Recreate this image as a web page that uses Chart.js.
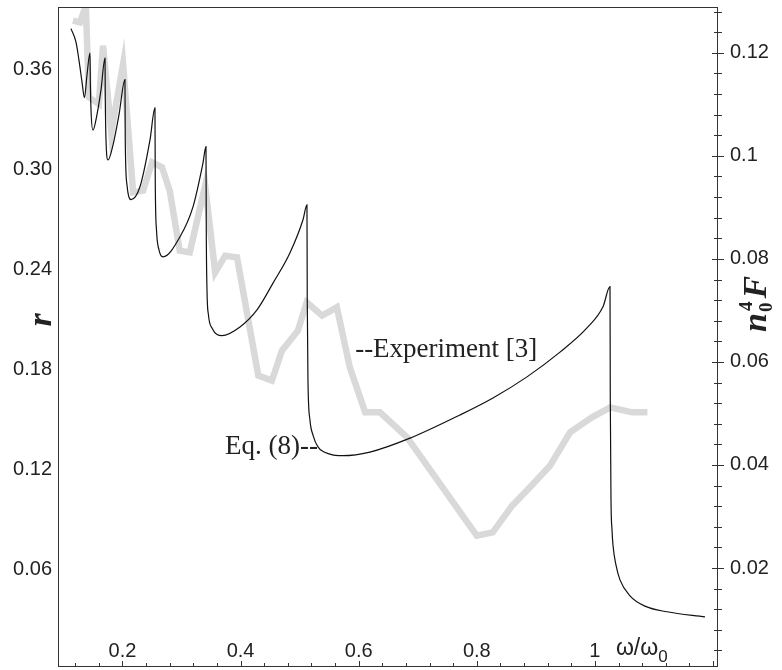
<!DOCTYPE html>
<html lang="en">
<head>
<meta charset="UTF-8">
<title>r and n0^4 F versus ω/ω0</title>
<script src="https://cdn.jsdelivr.net/npm/chart.js@4"></script>
<style>
  html, body { margin: 0; padding: 0; background: #fff; }
  #wrap { width: 782px; height: 670px; }
</style>
</head>
<body>
<div id="wrap"><canvas id="chart" width="782" height="670"></canvas></div>
<script>
// Experiment [3]  (grey, left axis r)
const expX = [0.116, 0.128, 0.138, 0.143, 0.160, 0.167, 0.181, 0.201, 0.218, 0.235,
              0.250, 0.267, 0.280, 0.297, 0.314, 0.340, 0.357, 0.374, 0.394, 0.430,
              0.453, 0.470, 0.497, 0.512, 0.538, 0.563, 0.585, 0.611, 0.636, 0.682,
              0.772, 0.800, 0.827, 0.860, 0.890, 0.924, 0.958, 0.995, 1.026, 1.063, 1.089];
const expR = [0.389, 0.388, 0.398, 0.343, 0.339, 0.374, 0.322, 0.363, 0.286, 0.287,
              0.304, 0.301, 0.287, 0.251, 0.250, 0.290, 0.238, 0.248, 0.247, 0.176,
              0.173, 0.191, 0.203, 0.220, 0.212, 0.217, 0.181, 0.154, 0.154, 0.139,
              0.094, 0.080, 0.082, 0.098, 0.109, 0.122, 0.142, 0.151, 0.157, 0.154, 0.154];

// Eq. (8)  (black, right axis n0^4 F)
const eqX = [0.1128, 0.1213, 0.1263, 0.1314, 0.1356, 0.1399, 0.1450, 0.1455, 0.1467, 0.1500,
             0.1568, 0.1636, 0.1704, 0.1709, 0.1721, 0.1754, 0.1839, 0.1941, 0.2042, 0.2047,
             0.2076, 0.2144, 0.2296, 0.2466, 0.2550, 0.2555, 0.2576, 0.2617, 0.2686, 0.2974,
             0.3194, 0.3363, 0.3414, 0.3419, 0.3431, 0.3456, 0.3516, 0.3685, 0.3990, 0.4278,
             0.4549, 0.4837, 0.5057, 0.5124, 0.5129, 0.5141, 0.5175, 0.5226, 0.5311, 0.5514,
             0.5734, 0.6191, 0.6869, 0.7715, 0.8274, 0.8850, 0.9409, 0.9866, 1.0137, 1.0256,
             1.0261, 1.0273, 1.0290, 1.0306, 1.0357, 1.0425, 1.0594, 1.0848, 1.1220, 1.1865];
const eqF = [0.1247, 0.1221, 0.1186, 0.1144, 0.1113, 0.1157, 0.1200, 0.1148, 0.1089, 0.1050,
             0.1080, 0.1128, 0.1190, 0.1109, 0.1031, 0.0992, 0.1021, 0.1080, 0.1148, 0.1031,
             0.0944, 0.0915, 0.0940, 0.1031, 0.1093, 0.0953, 0.0856, 0.0818, 0.0804, 0.0843,
             0.0901, 0.0986, 0.1018, 0.0856, 0.0740, 0.0691, 0.0666, 0.0651, 0.0668, 0.0701,
             0.0753, 0.0812, 0.0876, 0.0905, 0.0720, 0.0565, 0.0487, 0.0458, 0.0435, 0.0421,
             0.0418, 0.0425, 0.0452, 0.0497, 0.0530, 0.0571, 0.0619, 0.0666, 0.0707, 0.0746,
             0.0526, 0.0332, 0.0274, 0.0245, 0.0206, 0.0177, 0.0146, 0.0126, 0.0115, 0.0105];

const rTicks = [0.06, 0.12, 0.18, 0.24, 0.30, 0.36];
const fTicks = [0.02, 0.04, 0.06, 0.08, 0.1, 0.12];
const xTicks = [0.2, 0.4, 0.6, 0.8, 1];

const ink = '#222';
const sans = '"Liberation Sans", Arial, Helvetica, sans-serif';
const serif = '"Liberation Serif", "Times New Roman", serif';

// frame, inward ticks, x labels, axis titles and the two notes
const decor = {
  id: 'decor',
  afterDraw(chart) {
    const { ctx, chartArea: a, scales: { x, y } } = chart;
    const y2 = chart.scales.y2;
    ctx.save();
    ctx.strokeStyle = '#333';
    ctx.lineWidth = 1;
    ctx.strokeRect(a.left + 0.5, a.top + 0.5, a.right - a.left - 1, a.bottom - a.top - 1);

    // bottom ticks every 0.04, pointing up
    ctx.beginPath();
    for (let i = 3; i <= 30; i++) {
      const px = Math.round(x.getPixelForValue(i * 0.04)) + 0.5;
      const len = i % 5 === 0 ? 6 : 4;
      ctx.moveTo(px, a.bottom);
      ctx.lineTo(px, a.bottom - len);
    }
    // right ticks every 0.004, crossing the axis
    for (let i = 1; i <= 32; i++) {
      const py = Math.round(y2.getPixelForValue(i * 0.004)) + 0.5;
      const major = i % 5 === 0;
      ctx.moveTo(a.right - (major ? 6 : 4), py);
      ctx.lineTo(a.right + (major ? 6 : 4), py);
    }
    ctx.stroke();

    ctx.fillStyle = ink;
    ctx.font = '20px ' + sans;
    ctx.textAlign = 'center';
    ctx.textBaseline = 'alphabetic';
    xTicks.forEach(v => ctx.fillText(String(v), x.getPixelForValue(v), a.bottom - 10));

    // ω/ω0
    ctx.textAlign = 'left';
    ctx.font = '23px ' + sans;
    const wx = x.getPixelForValue(1) + 21;
    ctx.fillText('ω/ω', wx, a.bottom - 12);
    const ww = ctx.measureText('ω/ω').width;
    ctx.font = '17px ' + sans;
    ctx.fillText('0', wx + ww, a.bottom - 5);

    // left title r
    ctx.save();
    ctx.translate(51, 320);
    ctx.rotate(-Math.PI / 2);
    ctx.font = 'italic bold 34px ' + serif;
    ctx.textAlign = 'center';
    ctx.fillText('r', 0, 0);
    ctx.restore();

    // right title n0^4 F
    ctx.save();
    ctx.translate(766, 332);
    ctx.rotate(-Math.PI / 2);
    ctx.textAlign = 'left';
    ctx.font = 'italic bold 34px ' + serif;
    ctx.fillText('n', 0, 0);
    let cx = ctx.measureText('n').width + 1;
    ctx.font = 'bold 19px ' + serif;
    ctx.fillText('4', cx + 1, -14);
    ctx.fillText('0', cx, 6);
    cx += ctx.measureText('0').width + 4;
    ctx.font = 'italic bold 34px ' + serif;
    ctx.fillText('F', cx, 0);
    ctx.restore();

    // notes
    ctx.font = '27px ' + serif;
    ctx.textAlign = 'left';
    ctx.fillText('--Experiment [3]', x.getPixelForValue(0.594), y.getPixelForValue(0.187));
    ctx.textAlign = 'right';
    ctx.fillText('Eq. (8)--', x.getPixelForValue(0.531), y.getPixelForValue(0.129));
    ctx.restore();
  }
};

const tickFont = { family: sans, size: 20 };

// fixed side widths, no extra label padding above / below the plot
function fitLeft(s) { s.width = 58; s.paddingTop = 0; s.paddingBottom = 0; }
function fitRight(s) { s.width = 64; s.paddingTop = 0; s.paddingBottom = 0; }

new Chart(document.getElementById('chart'), {
  type: 'line',
  data: {
    datasets: [
      {
        label: 'Eq. (8)',
        data: eqX.map((v, i) => ({ x: v, y: eqF[i] })),
        yAxisID: 'y2',
        borderColor: '#111',
        borderWidth: 1.2,
        pointRadius: 0,
        cubicInterpolationMode: 'monotone',
        fill: false
      },
      {
        label: 'Experiment [3]',
        data: expX.map((v, i) => ({ x: v, y: expR[i] })),
        yAxisID: 'y',
        borderColor: '#d9d9d9',
        borderWidth: 6.5,
        borderJoinStyle: 'miter',
        pointRadius: 0,
        tension: 0,
        clip: 0,
        fill: false
      }
    ]
  },
  options: {
    responsive: false,
    animation: false,
    devicePixelRatio: 1,
    layout: { padding: { top: 7, bottom: 3, left: 0, right: 0 } },
    plugins: { legend: { display: false }, tooltip: { enabled: false } },
    scales: {
      x: { type: 'linear', display: false, min: 0.0908, max: 1.2085 },
      y: {
        position: 'left',
        min: 0.0012, max: 0.3972,
        afterBuildTicks: s => { s.ticks = rTicks.map(v => ({ value: v })); },
        afterFit: fitLeft,
        grid: { display: false, drawTicks: false },
        border: { display: false },
        ticks: { padding: 6, font: tickFont, color: ink, callback: v => v.toFixed(2) }
      },
      y2: {
        position: 'right',
        min: 0.00078, max: 0.1289,
        afterBuildTicks: s => { s.ticks = fTicks.map(v => ({ value: v })); },
        afterFit: fitRight,
        grid: { display: false, drawTicks: false },
        border: { display: false },
        ticks: { padding: 12, font: tickFont, color: ink, callback: v => String(+v.toFixed(2)) }
      }
    }
  },
  plugins: [decor]
});
</script>
</body>
</html>
